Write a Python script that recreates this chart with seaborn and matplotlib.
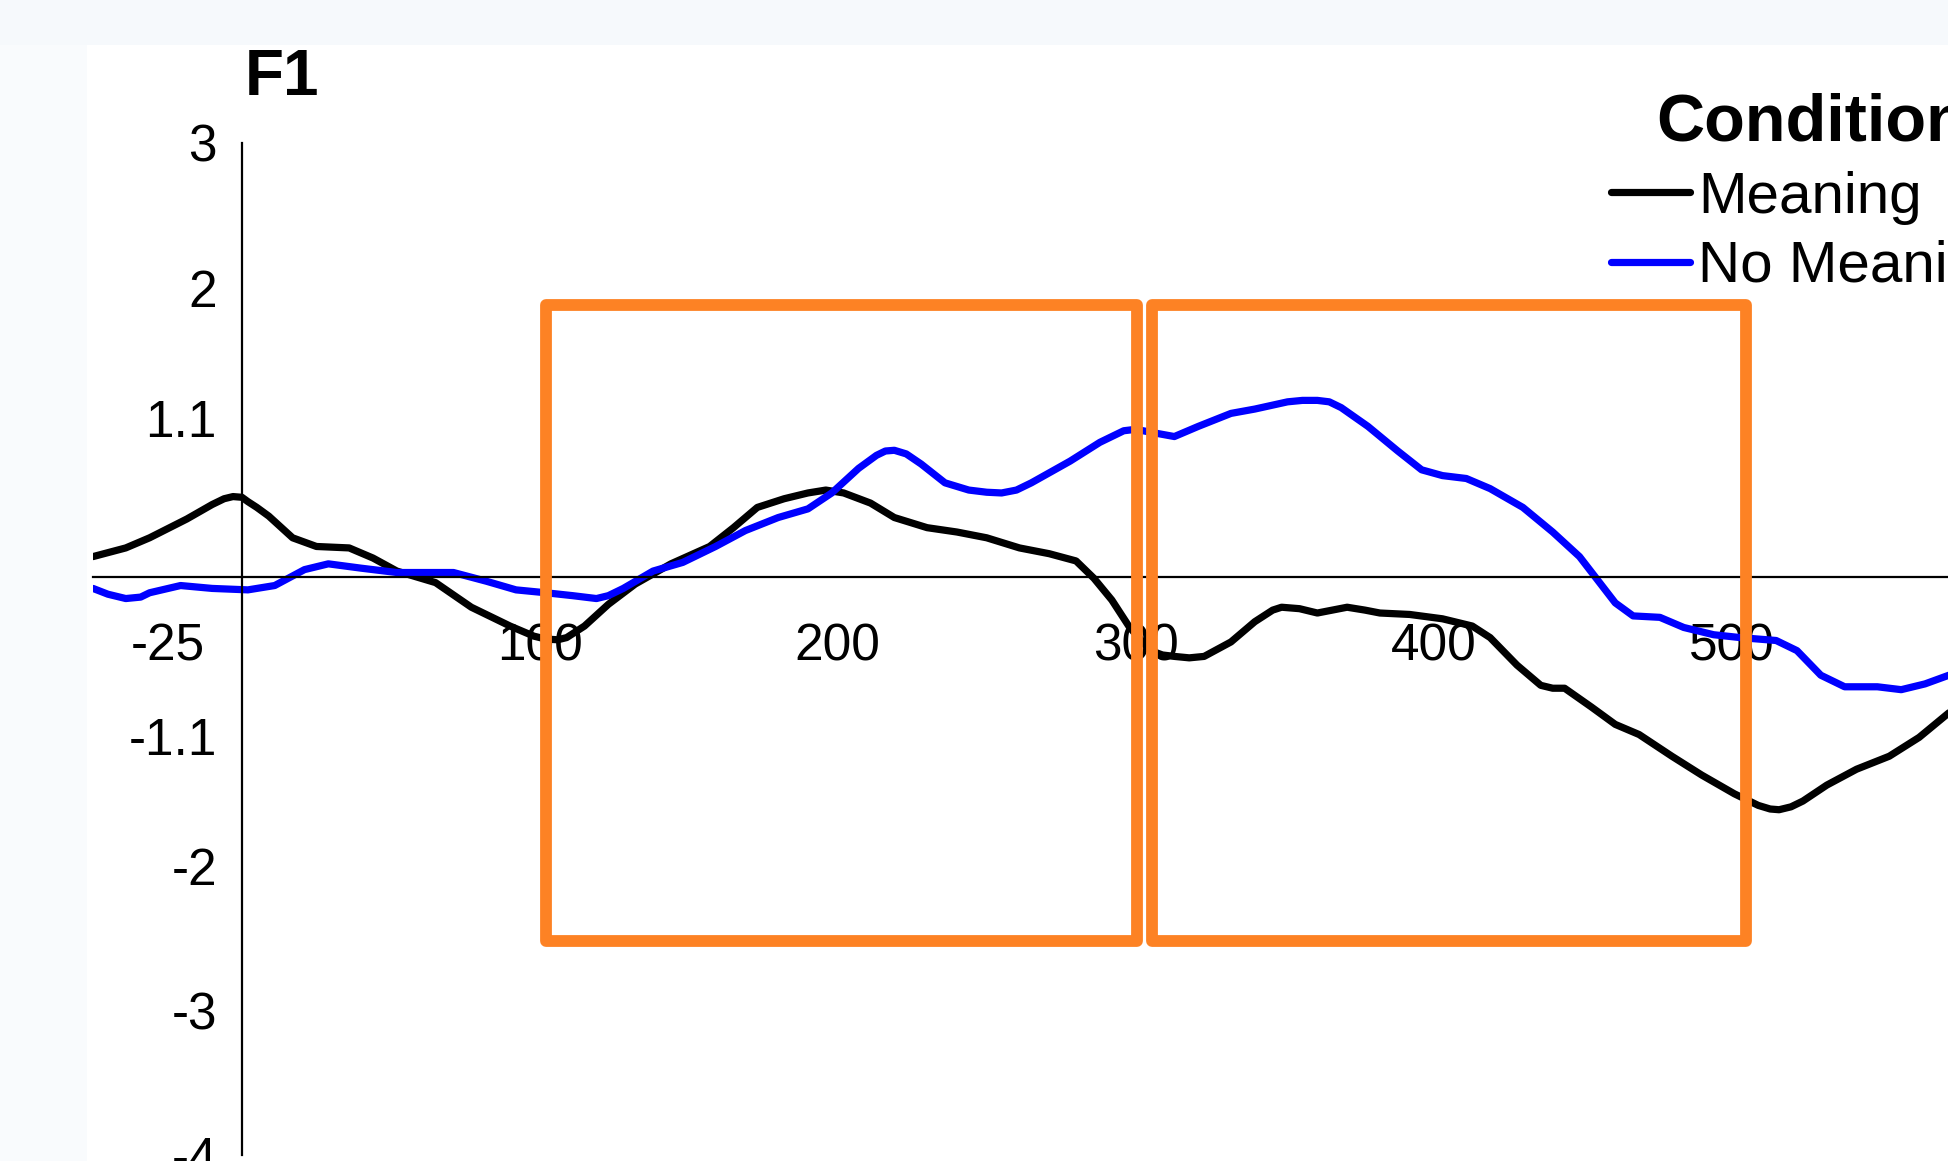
import matplotlib
matplotlib.use("Agg")
import matplotlib.pyplot as plt
import matplotlib.patches as patches
import numpy as np
import pandas as pd
import seaborn as sns

# ERP trace, Meaning condition (ms, microvolts)
meaning_t = [-50, -39, -31, -18.5, -10, -6, -3, 0, 2, 5, 9, 17, 25, 36, 44, 52, 65, 77, 90,
             98, 102, 106, 109, 115, 123, 132, 144, 157, 165, 173, 182, 190, 196, 202, 211,
             219, 230, 240, 250, 261, 271, 280, 286, 292, 298, 305, 309, 313, 318, 323, 332,
             340, 346, 349, 355, 361, 366, 371, 377, 382, 392, 403, 413, 419, 428, 436, 440,
             444, 453, 461, 469, 480, 490, 501, 509, 513, 516, 520, 524, 532, 542, 553, 563, 573]
meaning_v = [0.14, 0.20, 0.27, 0.40, 0.50, 0.54, 0.555, 0.55, 0.52, 0.48, 0.42, 0.27, 0.21,
             0.20, 0.13, 0.04, -0.04, -0.21, -0.34, -0.41, -0.43, -0.435, -0.42, -0.34,
             -0.19, -0.05, 0.09, 0.21, 0.34, 0.48, 0.54, 0.58, 0.60, 0.58, 0.51, 0.41,
             0.34, 0.31, 0.27, 0.20, 0.16, 0.11, -0.01, -0.16, -0.35, -0.51, -0.54, -0.55,
             -0.56, -0.55, -0.45, -0.31, -0.23, -0.21, -0.22, -0.25, -0.23, -0.21, -0.23,
             -0.25, -0.26, -0.29, -0.34, -0.42, -0.61, -0.75, -0.77, -0.77, -0.90, -1.02,
             -1.09, -1.24, -1.37, -1.50, -1.58, -1.605, -1.61, -1.59, -1.55, -1.44, -1.33,
             -1.24, -1.11, -0.94]

# ERP trace, No Meaning condition
nomeaning_t = [-50, -45, -39, -34, -31, -20.6, -10, 2, 11, 21, 29, 40, 52, 63, 71, 82, 92, 102,
               111, 119, 123, 128, 138, 148, 159, 169, 180, 190, 198, 207, 213, 216, 219, 223,
               228, 236, 244, 250, 255, 260, 265, 278, 288, 296, 300, 305, 313, 321, 332, 340,
               351, 356, 361, 365, 369, 378, 388, 396, 403, 411, 419, 430, 440, 449, 455, 461,
               467, 476, 484, 494, 503, 515, 522, 530, 538, 549, 557, 565, 573]
nomeaning_v = [-0.08, -0.12, -0.15, -0.14, -0.11, -0.06, -0.08, -0.09, -0.06, 0.05, 0.09,
               0.06, 0.03, 0.03, 0.03, -0.03, -0.09, -0.11, -0.13, -0.15, -0.13, -0.08, 0.04,
               0.10, 0.21, 0.32, 0.41, 0.47, 0.58, 0.75, 0.84, 0.87, 0.875, 0.85, 0.78, 0.65,
               0.60, 0.585, 0.58, 0.60, 0.65, 0.80, 0.93, 1.01, 1.02, 1.00, 0.97, 1.04, 1.13,
               1.16, 1.21, 1.22, 1.22, 1.21, 1.17, 1.04, 0.87, 0.74, 0.70, 0.68, 0.61, 0.48,
               0.31, 0.14, -0.02, -0.18, -0.27, -0.28, -0.35, -0.40, -0.42, -0.44, -0.51,
               -0.68, -0.76, -0.76, -0.78, -0.74, -0.68]

conditions = ["Meaning", "No Meaning"]
line_colors = ["#000000", "#0000FF"]

x_ticks = [-25, 100, 200, 300, 400, 500]
y_ticks = [3, 2, 1.1, -1.1, -2, -3, -4]
y_tick_labels = ["3", "2", "1.1", "-1.1", "-2", "-3", "-4"]

# analysis windows highlighted in orange
window_start = [102, 305.5]
window_end = [300.5, 505]
window_low = -2.52
window_high = 1.88

df = pd.concat([
    pd.DataFrame({"Time": meaning_t, "Amplitude": meaning_v, "Condition": conditions[0]}),
    pd.DataFrame({"Time": nomeaning_t, "Amplitude": nomeaning_v, "Condition": conditions[1]}),
])

sns.set_theme(style="white")
plt.rcParams["font.family"] = ["Liberation Sans", "DejaVu Sans"]
plt.rcParams["text.color"] = "black"

fig = plt.figure(figsize=(19.48, 11.61), dpi=100)
fig.patch.set_facecolor("white")

# faint slide background bands
fig.patches.append(patches.Rectangle((0, 1 - 45 / 1161), 1, 45 / 1161, transform=fig.transFigure,
                                     facecolor="#f6f9fc", edgecolor="none", zorder=0))
fig.patches.append(patches.Rectangle((0, 0), 87 / 1948, 1 - 45 / 1161, transform=fig.transFigure,
                                     facecolor="#f9fbfd", edgecolor="none", zorder=0))

ax = fig.add_axes([93 / 1948, 0.0048, 1 - 93 / 1948, 0.8721])
ax.patch.set_alpha(0)

sns.lineplot(data=df, x="Time", y="Amplitude", hue="Condition", palette=line_colors,
             hue_order=conditions, linewidth=5, sort=False, estimator=None, ax=ax)
for ln in ax.lines:
    ln.set_linewidth(5.2)
    ln.set_solid_joinstyle("round")
    ln.set_solid_capstyle("round")

ax.set_xlim(-50, 572.7)
ax.set_ylim(-4, 3)

ax.spines["top"].set_visible(False)
ax.spines["right"].set_visible(False)
ax.spines["left"].set_position(("data", 0))
ax.spines["bottom"].set_position(("data", 0))
for s in ["left", "bottom"]:
    ax.spines[s].set_color("black")
    ax.spines[s].set_linewidth(1.6)

ax.set_xticks(x_ticks)
ax.set_xticklabels([str(t) for t in x_ticks])
ax.set_yticks(y_ticks)
ax.set_yticklabels(y_tick_labels)
ax.tick_params(axis="x", direction="out", length=15, width=1.6, pad=18, labelsize=37, colors="black")
ax.tick_params(axis="y", direction="out", length=8, width=1.6, pad=10, labelsize=37, colors="black")
ax.set_xlabel("")
ax.set_ylabel("")

for a, b in zip(window_start, window_end):
    ax.add_patch(patches.Rectangle((a, window_low), b - a, window_high - window_low,
                                   fill=False, edgecolor="#FD8224", linewidth=8.5,
                                   joinstyle="round", zorder=5, clip_on=False))

handles, labels = ax.get_legend_handles_labels()
for h in handles:
    h.set_linewidth(5.2)
leg = ax.legend(handles, labels, title="Condition", loc="upper left",
                bbox_to_anchor=(1611 / 1948, 0.92), bbox_transform=fig.transFigure,
                frameon=False, fontsize=42, handlelength=1.35, handletextpad=0.15,
                labelspacing=0.27, borderpad=0, borderaxespad=0,
                title_fontproperties={"weight": "bold", "size": 48})
for t in leg.get_texts():
    t.set_color("black")
leg.get_title().set_color("black")

fig.text(245 / 1948, 0.918, "F1", fontsize=46, fontweight="bold", ha="left", va="baseline")

fig.savefig("out.png", dpi=100)
